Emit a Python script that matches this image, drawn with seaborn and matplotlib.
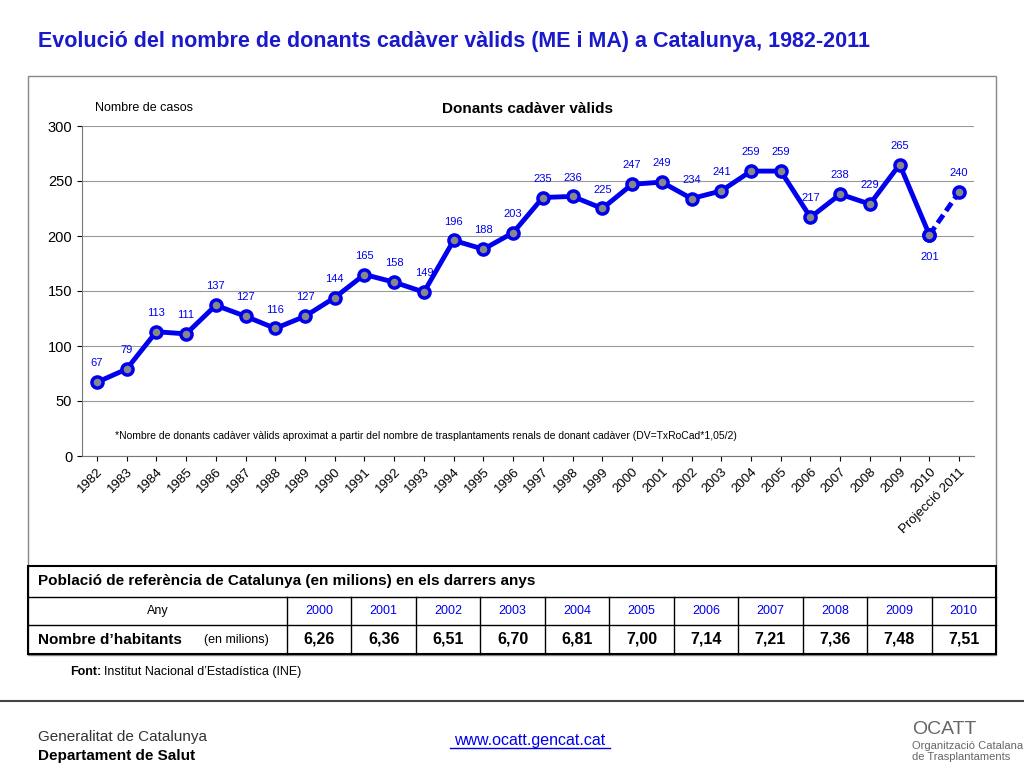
import matplotlib
matplotlib.use("Agg")
import matplotlib.pyplot as plt
from matplotlib.patches import Rectangle
from matplotlib.lines import Line2D
import seaborn as sns
import pandas as pd

plt.rcParams["font.family"] = "Liberation Sans"

years = [str(y) for y in range(1982, 2011)] + ["Projecció 2011"]
donants = [67, 79, 113, 111, 137, 127, 116, 127, 144, 165, 158, 149, 196, 188, 203,
           235, 236, 225, 247, 249, 234, 241, 259, 259, 217, 238, 229, 265, 201, 240]
pob_anys = ["2000", "2001", "2002", "2003", "2004", "2005", "2006", "2007", "2008", "2009", "2010"]
pob_vals = ["6,26", "6,36", "6,51", "6,70", "6,81", "7,00", "7,14", "7,21", "7,36", "7,48", "7,51"]

BLUE = "#0000ee"
W, H = 1024, 768
fig = plt.figure(figsize=(W / 100, H / 100), dpi=100)

def fx(px):
    return px / W

def fy(py):
    return 1 - py / H

fig.text(fx(38), fy(42), "Evolució del nombre de donants cadàver vàlids (ME i MA) a Catalunya, 1982-2011",
         color="#1a1acc", fontsize=15.5, fontweight="bold", va="center")

# outer box
fig.add_artist(Rectangle((fx(28), fy(655)), fx(996) - fx(28), fy(76) - fy(655),
                         transform=fig.transFigure, fill=False, ec="#888888", lw=1))

ax = fig.add_axes([fx(82), fy(456), fx(974) - fx(82), fy(126) - fy(456)])
df = pd.DataFrame({"x": range(len(years)), "v": donants})
sns.lineplot(data=df.iloc[:-1], x="x", y="v", ax=ax, color=BLUE, lw=3.5,
             marker="o", markersize=8, markerfacecolor="#888888", markeredgecolor=BLUE, markeredgewidth=2.5)
sns.lineplot(data=df.iloc[-2:], x="x", y="v", ax=ax, color=BLUE, lw=3.5, linestyle=(0, (2, 1)),
             marker="o", markersize=8, markerfacecolor="#888888", markeredgecolor=BLUE, markeredgewidth=2.5)
for i, v in enumerate(donants):
    off = -12 if i == 28 else 10
    ax.annotate(str(v), (i, v), xytext=(0, off), textcoords="offset points", ha="center",
                va="bottom" if off > 0 else "top", fontsize=8, color=BLUE)
ax.set_xlim(-0.5, len(years) - 0.5)
ax.set_ylim(0, 300)
ax.set_yticks(range(0, 301, 50))
ax.set_xticks(range(len(years)))
ax.set_xticklabels(years, rotation=45, ha="right", rotation_mode="anchor", fontsize=9.5)
ax.tick_params(axis="y", labelsize=10.5)
ax.set_xlabel("")
ax.set_ylabel("")
ax.grid(axis="y", color="#999999", lw=0.8)
ax.set_axisbelow(True)
for s in ["top", "right"]:
    ax.spines[s].set_visible(False)
ax.spines["left"].set_color("#777777")
ax.spines["bottom"].set_color("#777777")
ax.text(0.5, 1.04, "Donants cadàver vàlids", transform=ax.transAxes, ha="center", fontsize=11, fontweight="bold")
fig.text(fx(95), fy(108), "Nombre de casos", fontsize=9, va="center")
ax.text(0.6, 18, "*Nombre de donants cadàver vàlids aproximat a partir del nombre de trasplantaments renals de donant cadàver (DV=TxRoCad*1,05/2)",
        fontsize=7.5, va="center")

# table
rows = [566, 597, 625, 654]
x0, x1, xl = 28, 996, 287
cw = (x1 - xl) / len(pob_anys)
fig.add_artist(Rectangle((fx(x0), fy(rows[-1])), fx(x1) - fx(x0), fy(rows[0]) - fy(rows[-1]),
                         transform=fig.transFigure, fill=False, ec="black", lw=1.5))
for r in rows[1:-1]:
    fig.add_artist(Line2D([fx(x0), fx(x1)], [fy(r), fy(r)], transform=fig.transFigure, color="black", lw=1))
for i in range(len(pob_anys)):
    xx = xl + i * cw
    fig.add_artist(Line2D([fx(xx), fx(xx)], [fy(rows[1]), fy(rows[3])], transform=fig.transFigure, color="black", lw=1))
    fig.text(fx(xx + cw / 2), fy((rows[1] + rows[2]) / 2), pob_anys[i], ha="center", va="center", fontsize=9, color=BLUE)
    fig.text(fx(xx + cw / 2), fy((rows[2] + rows[3]) / 2), pob_vals[i], ha="center", va="center", fontsize=11.5, fontweight="bold")
fig.text(fx(38), fy((rows[0] + rows[1]) / 2), "Població de referència de Catalunya (en milions) en els darrers anys",
         va="center", fontsize=11, fontweight="bold")
fig.text(fx((x0 + xl) / 2), fy((rows[1] + rows[2]) / 2), "Any", ha="center", va="center", fontsize=9)
fig.text(fx(38), fy((rows[2] + rows[3]) / 2), "Nombre d’habitants", va="center", fontsize=11, fontweight="bold")
fig.text(fx(204), fy((rows[2] + rows[3]) / 2), "(en milions)", va="center", fontsize=9)
fig.text(fx(70), fy(672), "Font:", va="center", fontsize=9, fontweight="bold")
fig.text(fx(104), fy(672), "Institut Nacional d’Estadística (INE)", va="center", fontsize=9)

# footer
fig.add_artist(Line2D([0, 1], [fy(701), fy(701)], transform=fig.transFigure, color="#444444", lw=1.5))
fig.text(fx(38), fy(737), "Generalitat de Catalunya", va="center", fontsize=11, color="#333333")
fig.text(fx(38), fy(756), "Departament de Salut", va="center", fontsize=11, fontweight="bold")
fig.text(fx(530), fy(740), "www.ocatt.gencat.cat", ha="center", va="center", fontsize=11.5, color=BLUE)
fig.add_artist(Line2D([fx(450), fx(610)], [fy(748), fy(748)], transform=fig.transFigure, color=BLUE, lw=1))
fig.text(fx(912), fy(730), "OCATT", va="center", fontsize=14, color="#666666")
fig.text(fx(912), fy(746), "Organització Catalana", va="center", fontsize=8, color="#666666")
fig.text(fx(912), fy(757), "de Trasplantaments", va="center", fontsize=8, color="#666666")

fig.savefig("out.png", dpi=100)
